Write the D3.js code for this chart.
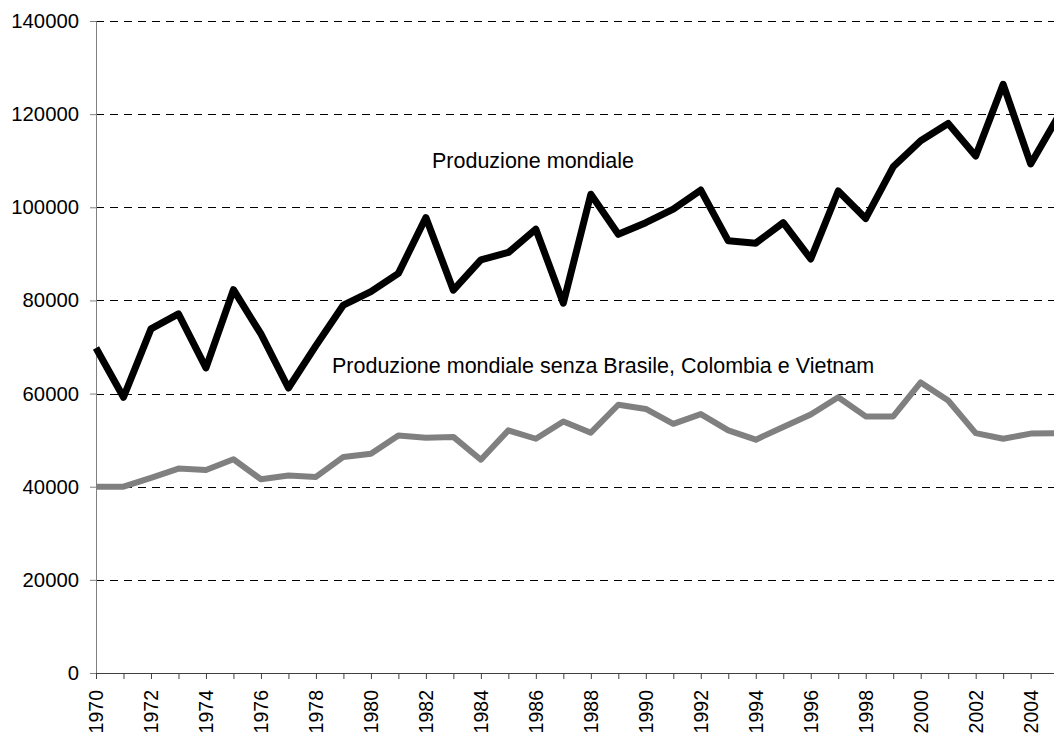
<!DOCTYPE html>
<html>
<head>
<meta charset="utf-8">
<script src="https://cdn.jsdelivr.net/npm/d3@7"></script>
<style>
  html, body { margin: 0; padding: 0; background: #fff; }
  svg { display: block; font-family: "Liberation Sans", Arial, sans-serif; }
</style>
</head>
<body>
<svg id="chart" width="1054" height="740"></svg>
<script>
// Data
const years = d3.range(1970, 2006)
const worldProduction = [
  69800, 59200, 73900, 77100, 65500, 82300, 72800, 61200, 70300, 79000,
  81900, 85800, 97800, 82200, 88700, 90300, 95300, 79400, 102800, 94200,
  96700, 99600, 103700, 92800, 92300, 96700, 88900, 103500, 97600, 108700,
  114300, 118000, 111000, 126400, 109300, 119500
]
const worldWithoutBigThree = [
  40000, 40000, 41900, 43900, 43600, 45900, 41600, 42400, 42100, 46400,
  47100, 51000, 50500, 50700, 45800, 52100, 50300, 54000, 51600, 57600,
  56700, 53500, 55600, 52100, 50100, 52800, 55500, 59200, 55100, 55100,
  62400, 58500, 51500, 50300, 51400, 51500
]
const yTicks = [0, 20000, 40000, 60000, 80000, 100000, 120000, 140000]
const labelWorld = "Produzione mondiale"
const labelWithout = "Produzione mondiale senza Brasile, Colombia e Vietnam"

const width = 1054
const height = 740
const svg = d3.select("#chart")

// Scales
const x = d3.scaleLinear().domain([1970, 2005]).range([96, 96 + 35 * 27.49])
const y = d3.scaleLinear().domain([0, 140000]).range([673, 21])

// Grid lines (dashed)
svg.append("g")
  .attr("class", "grid")
  .selectAll("line")
  .data(yTicks.filter(d => d > 0))
  .enter()
  .append("line")
  .attr("x1", x(1970))
  .attr("x2", width)
  .attr("y1", d => Math.round(y(d)) + 0.5)
  .attr("y2", d => Math.round(y(d)) + 0.5)
  .attr("stroke", "#000")
  .attr("stroke-width", 1)
  .attr("stroke-dasharray", "8,6")

// Y axis
const yAxis = svg.append("g")
  .attr("transform", `translate(${x(1970)},0)`)
  .call(d3.axisLeft(y).tickValues(yTicks).tickSize(6).tickPadding(11).tickFormat(d3.format("d")))
yAxis.select(".domain").attr("stroke", "#808080")
yAxis.selectAll(".tick line").attr("stroke", "#808080")
yAxis.selectAll("text")
  .style("font-size", "20.3px")
  .attr("fill", "#000")

// X axis
const xAxis = svg.append("g")
  .attr("transform", `translate(0,${y(0)})`)
  .call(d3.axisBottom(x).tickValues(years).tickSize(6).tickFormat(d => d % 2 === 0 ? d : ""))
xAxis.select(".domain").attr("stroke", "#404040")
xAxis.selectAll(".tick line").attr("stroke", "#404040")
xAxis.selectAll("text")
  .attr("transform", "rotate(-90)")
  .attr("text-anchor", "end")
  .attr("x", -17)
  .attr("y", 0)
  .attr("dy", "0.35em")
  .style("font-size", "19.5px")
  .attr("fill", "#000")

// Lines
const line = values => d3.line()
  .x((d, i) => x(years[i]))
  .y(d => y(d))(values)

svg.append("path")
  .attr("d", line(worldWithoutBigThree))
  .attr("fill", "none")
  .attr("stroke", "#808080")
  .attr("stroke-width", 6)
  .attr("stroke-linejoin", "round")

svg.append("path")
  .attr("d", line(worldProduction))
  .attr("fill", "none")
  .attr("stroke", "#000")
  .attr("stroke-width", 7)
  .attr("stroke-linejoin", "round")

// Annotations
svg.append("text")
  .attr("x", 432)
  .attr("y", 168)
  .style("font-size", "21.5px")
  .attr("fill", "#000")
  .text(labelWorld)

svg.append("text")
  .attr("x", 332)
  .attr("y", 373)
  .style("font-size", "21.5px")
  .attr("fill", "#000")
  .text(labelWithout)
</script>
</body>
</html>
